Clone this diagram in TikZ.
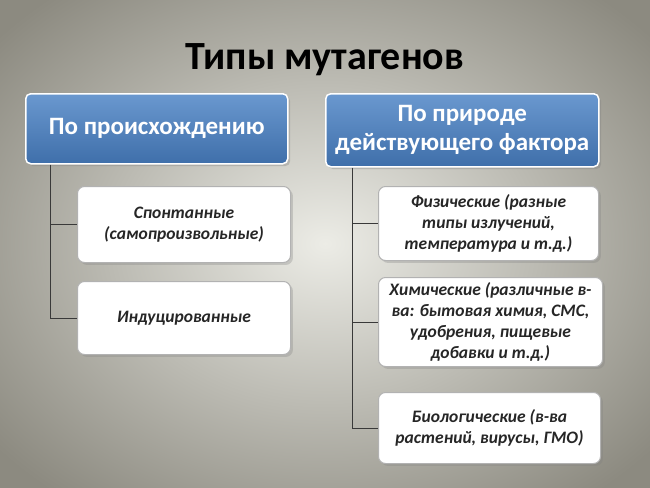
\documentclass[tikz,border=0pt]{standalone}
\usepackage{fontspec}
\setmainfont{Carlito}
\usetikzlibrary{shadows}
\definecolor{hdtop}{HTML}{6A98CF}
\definecolor{hdbot}{HTML}{3F6FAA}
\definecolor{bgin}{HTML}{ECECE6}
\definecolor{bgout}{HTML}{8C8A80}
\begin{document}
\begin{tikzpicture}[x=1pt,y=-1pt,
  hdr/.style={draw=white,line width=1.5pt,rounded corners=5pt,shading=axis,top color=hdtop,bottom color=hdbot,text=white,font=\bfseries\fontsize{25}{29}\selectfont,align=center,anchor=north west,drop shadow={opacity=0.35}},
  item/.style={draw=gray!60,line width=1pt,rounded corners=7pt,fill=white,text=black!85,font=\bfseries\itshape\fontsize{17.5}{21}\selectfont,align=center,anchor=north west,drop shadow={opacity=0.3}},
  conn/.style={draw=gray!45!black,line width=0.8pt}]
\useasboundingbox (0,0) rectangle (650,487);
\shade[inner color=bgin,outer color=bgout] (-100,-80) rectangle (750,567);
\node[font=\bfseries\fontsize{40}{46}\selectfont,text=black] (title) at (325,60) {Типы мутагенов};
\node[hdr,minimum width=262pt,minimum height=70pt] (lh) at (25,93) {По происхождению};
\node[hdr,minimum width=273pt,minimum height=73pt] (rh) at (325,93) {По природе\\действующего фактора};
\node[item,minimum width=213pt,minimum height=76pt] (l1) at (77,186) {Спонтанные\\(самопроизвольные)};
\node[item,minimum width=213pt,minimum height=73pt] (l2) at (77,281) {Индуцированные};
\node[item,minimum width=220pt,minimum height=74pt] (r1) at (378,186) {Физические (разные\\типы излучений,\\температура и т.д.)};
\node[item,minimum width=224pt,minimum height=89pt] (r2) at (378,277) {Химические (различные в-\\ва: бытовая химия, СМС,\\удобрения, пищевые\\добавки и т.д.)};
\node[item,minimum width=222pt,minimum height=71pt] (r3) at (378,392) {Биологические (в-ва\\растений, вирусы, ГМО)};
\draw[conn] (lh.south west) ++(25,0) coordinate (la) |- (l2.west);
\draw[conn] (la |- l1.west) -- (l1.west);
\draw[conn] (rh.south west) ++(27,0) coordinate (ra) |- (r3.west);
\draw[conn] (ra |- r1.west) -- (r1.west);
\draw[conn] (ra |- r2.west) -- (r2.west);
\end{tikzpicture}
\end{document}
